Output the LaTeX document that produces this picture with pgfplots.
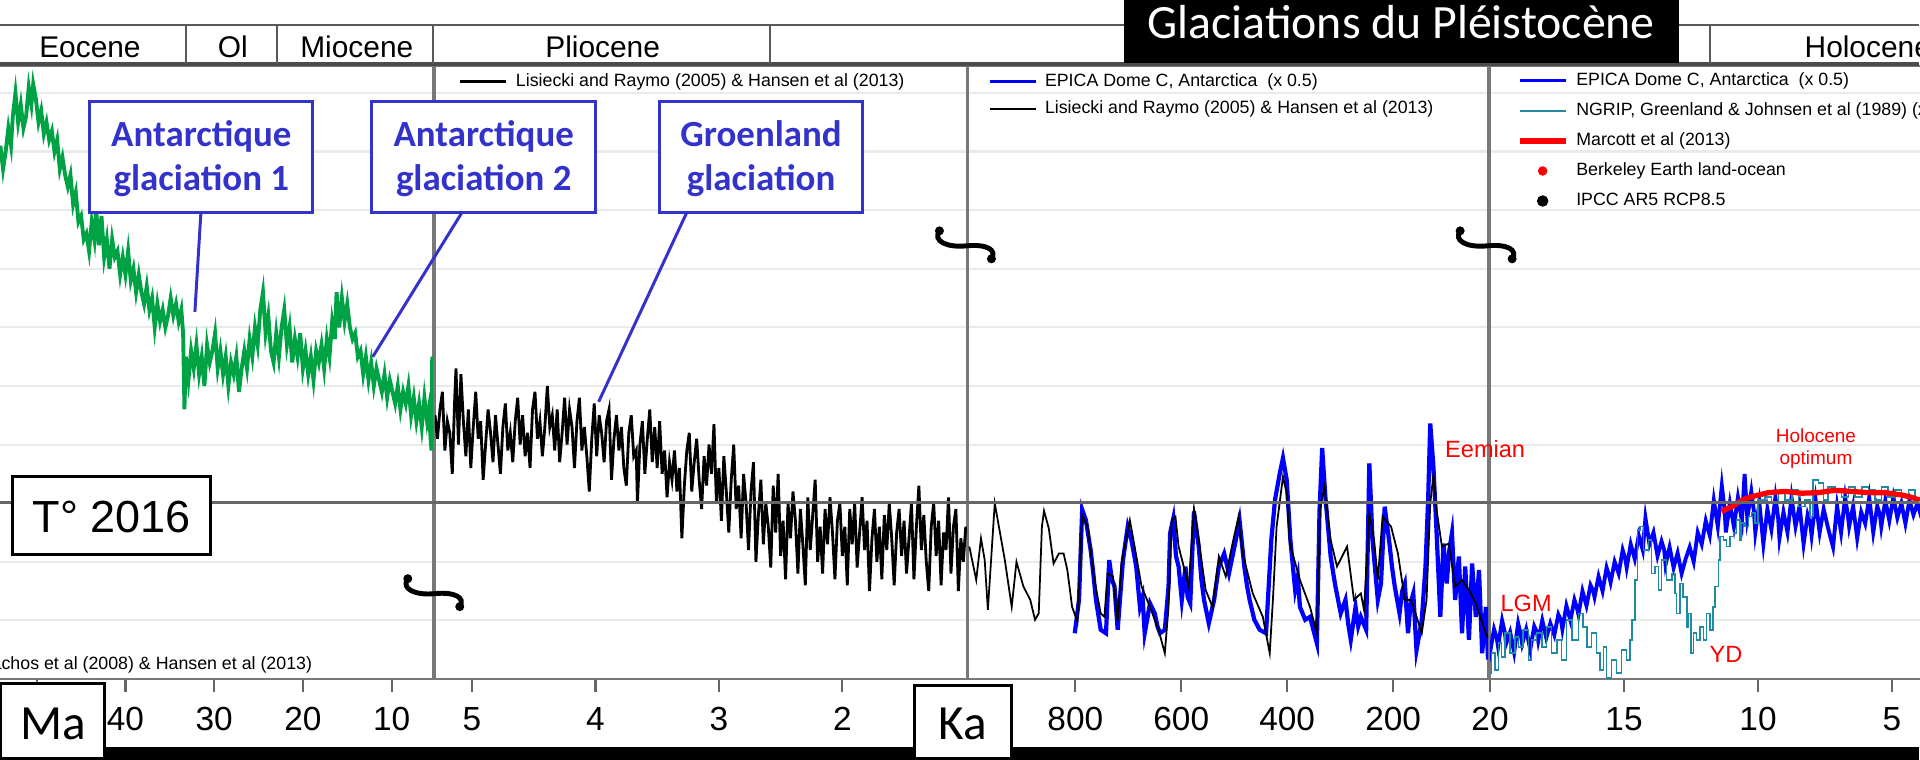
\documentclass[border=0pt]{standalone}
\usepackage{pgfplots}
\pgfplotsset{compat=1.18}
\usepackage{fontspec}
\setmainfont{Liberation Sans}
\newfontfamily\calibri{Carlito}
\definecolor{zgreen}{RGB}{0,163,68}
\definecolor{epica}{RGB}{0,0,255}
\definecolor{ngrip}{RGB}{32,138,160}
\definecolor{lblue}{RGB}{51,51,204}
\definecolor{gridc}{RGB}{234,234,234}
\definecolor{axc}{RGB}{120,120,120}
\pgfplotsset{
 panel/.style={
  scale only axis, height=6.13cm, ymin=0, ymax=10.46, x dir=reverse,
  anchor=south west,
  ytick={1,...,10}, yticklabels={}, ymajorgrids,
  major grid style={draw=gridc, line width=0.6pt},
  y tick style={draw=none},
  xtick pos=lower, tick align=outside, major tick length=0.13cm,
  x tick style={draw=black!60, line width=0.6pt},
  axis line style={draw=axc, line width=0.55pt},
  xticklabel style={font=\fontsize{9.5}{11}\selectfont, yshift=-0.03cm},
  /pgf/number format/assume math mode=true,
  legend image code/.code={\draw[##1] (0cm,0cm) -- (0.46cm,0cm);},
  legend cell align=left,
  legend style={draw=none, fill=none, inner sep=0pt, outer sep=0pt,
    font=\fontsize{5.06}{6}\selectfont, column sep=0.08cm, row sep=0.10cm,
    nodes={inner sep=0pt, text height=0.13cm, text depth=0.04cm}},
 }
}
\tikzset{brk/.pic={
  \draw[line width=1.4pt] (-27,-15) .. controls (-34,-5) and (-20,2) .. (0,0) .. controls (20,-2) and (31,4) .. (25,13);
  \fill (-27,-15) circle (4.5); \fill (25,13) circle (4.5);}}
\begin{document}
\begin{tikzpicture}
\useasboundingbox (0,0) rectangle (19.2,7.6);
\clip (0,0) rectangle (19.2,7.6);
% ---------------- panel 1 : Zachos
\begin{axis}[panel, at={(-0.076cm,0.81cm)}, width=4.406cm, xmin=5.33, xmax=55,
  xtick={10,20,30,40}, extra x ticks={50}, extra x tick labels={},
  legend style={at={(0.7254,0.009)}, anchor=south east}]
\addlegendimage{zgreen, line width=1.1pt}
\addlegendentry{Zachos et al (2008) \& Hansen et al (2013)}
\addplot[zgreen, line width=1.1pt, forget plot] table {
x y
54.1 9.1
53.8 8.7
53.5 9.0
53.2 9.4
52.9 9.1
52.7 9.6
52.4 10.0
52.1 9.5
51.8 9.8
51.5 9.4
51.2 9.6
50.9 10.1
50.6 9.8
50.4 10.15
50.1 9.9
49.8 9.5
49.5 9.7
49.2 9.3
48.9 9.5
48.6 9.2
48.3 9.35
48.0 9.0
47.7 9.2
47.4 8.7
47.1 8.9
46.8 8.6
46.5 8.4
46.2 8.6
45.9 8.1
45.6 8.3
45.3 7.8
45.0 7.9
44.7 7.5
44.4 7.6
44.1 7.3
43.8 7.8
43.5 7.5
43.3 8.0
43.0 7.4
42.7 7.9
42.4 7.2
42.1 7.5
41.8 7.0
41.5 7.5
41.2 7.2
40.9 7.3
40.6 6.9
40.3 7.2
40.0 6.9
39.7 7.3
39.4 6.8
39.1 7.0
38.8 6.6
38.5 6.9
38.2 6.6
37.9 6.4
37.6 6.7
37.3 6.3
37.0 6.5
36.7 6.0
36.4 6.4
36.1 6.1
35.8 6.3
35.5 6.0
35.2 6.2
34.9 6.5
34.6 6.2
34.3 6.4
34.0 6.1
33.7 6.3
33.5 5.9
33.35 4.6
33.2 5.5
32.9 5.1
32.6 5.6
32.3 5.3
32.0 5.7
31.7 5.2
31.4 5.5
31.1 5.0
30.8 5.7
30.5 5.4
30.2 5.6
29.9 5.9
29.6 5.3
29.3 5.6
29.0 5.2
28.7 5.5
28.4 5.0
28.1 5.4
27.8 5.2
27.5 5.5
27.2 4.9
26.9 5.3
26.6 5.6
26.3 5.3
26.0 5.8
25.7 5.5
25.4 6.0
25.1 5.7
24.8 6.3
24.5 6.6
24.2 5.9
23.9 6.2
23.6 5.6
23.3 5.4
23.0 5.9
22.7 5.5
22.4 6.0
22.1 6.3
21.8 5.7
21.5 6.0
21.2 5.4
20.9 5.8
20.6 5.5
20.3 5.9
20.0 5.3
19.7 5.6
19.4 5.2
19.1 5.5
18.8 5.1
18.5 5.6
18.2 5.4
17.9 5.7
17.6 5.3
17.3 5.8
17.0 5.5
16.7 6.1
16.4 5.8
16.2 6.6
15.9 6.0
15.6 6.5
15.3 6.1
15.0 6.4
14.7 6.0
14.4 5.8
14.1 5.9
13.8 5.5
13.5 5.6
13.2 5.2
12.9 5.5
12.6 5.1
12.3 5.4
12.0 5.0
11.7 5.3
11.4 5.1
11.1 4.9
10.8 5.2
10.5 4.8
10.2 5.1
9.9 4.9
9.6 4.7
9.3 5.0
9.0 4.6
8.7 4.9
8.4 4.7
8.1 5.0
7.8 4.5
7.5 4.8
7.2 4.4
6.9 4.7
6.6 4.3
6.3 4.8
6.0 4.4
5.8 4.6
5.6 4.1
5.5 3.9
5.42 5.5
5.33 4.3
};
\end{axis}
% ---------------- panel 2 : Pliocene
\begin{axis}[panel, at={(4.35cm,0.81cm)}, width=5.32cm, xmin=0.99, xmax=5.30,
  xtick={2,3,4,5},
  legend style={at={(0.0451,0.9878)}, anchor=north west}]
\addlegendimage{black, line width=0.85pt}
\addlegendentry{Lisiecki and Raymo (2005) \& Hansen et al (2013)}
\addplot[black, line width=0.8pt, forget plot] table {
x y
5.30 4.5
5.28 4.1
5.26 4.6
5.24 4.9
5.22 3.9
5.20 4.4
5.18 4.2
5.16 3.5
5.14 4.8
5.13 5.3
5.11 4.0
5.09 5.2
5.07 4.4
5.05 3.8
5.03 4.6
5.01 3.6
4.99 4.3
4.97 4.9
4.95 4.1
4.93 4.4
4.91 3.4
4.89 4.0
4.87 4.6
4.85 4.2
4.83 3.7
4.81 4.5
4.79 4.0
4.77 3.5
4.75 4.3
4.73 4.7
4.71 3.9
4.69 4.2
4.67 3.7
4.65 4.4
4.63 4.8
4.61 4.0
4.59 4.5
4.57 3.8
4.55 4.2
4.53 3.6
4.51 4.6
4.49 4.9
4.47 4.1
4.45 4.4
4.43 3.8
4.41 4.3
4.39 5.0
4.37 4.3
4.35 4.5
4.33 3.9
4.31 4.6
4.29 3.7
4.27 4.2
4.25 4.8
4.23 4.0
4.21 4.6
4.19 4.3
4.17 3.6
4.15 4.4
4.13 4.8
4.11 3.9
4.09 4.3
4.07 3.8
4.05 3.2
4.03 4.1
4.01 4.7
3.99 3.8
3.97 4.5
3.95 4.2
3.93 3.7
3.91 4.4
3.89 4.6
3.87 3.4
3.85 4.1
3.83 4.5
3.81 3.9
3.79 4.3
3.77 3.6
3.75 3.3
3.73 4.2
3.71 4.5
3.69 3.8
3.67 3.9
3.66 3.0
3.64 4.0
3.62 4.4
3.60 3.5
3.58 4.1
3.56 4.6
3.54 3.7
3.52 4.3
3.50 3.6
3.48 4.4
3.46 3.5
3.44 3.9
3.42 3.1
3.40 3.7
3.38 3.4
3.36 3.9
3.34 3.2
3.32 3.6
3.30 2.4
3.28 3.3
3.26 3.9
3.24 4.2
3.22 3.2
3.20 3.7
3.18 4.1
3.16 3.4
3.14 2.9
3.12 3.8
3.10 3.3
3.08 4.0
3.06 3.5
3.04 4.35
3.02 3.0
3.00 3.6
2.98 2.7
2.96 3.8
2.94 3.2
2.92 2.5
2.90 3.4
2.88 4.0
2.86 2.9
2.84 3.3
2.82 2.4
2.80 3.5
2.78 3.0
2.76 2.2
2.74 3.2
2.72 3.7
2.70 2.0
2.68 2.8
2.66 3.4
2.64 2.3
2.62 3.0
2.60 2.6
2.58 1.9
2.56 3.3
2.54 2.5
2.52 3.5
2.50 2.1
2.48 2.7
2.46 1.7
2.44 3.0
2.42 2.4
2.40 3.2
2.38 2.7
2.36 1.8
2.34 2.9
2.32 2.3
2.30 1.6
2.28 3.1
2.26 2.2
2.24 2.8
2.22 3.4
2.20 2.0
2.18 2.6
2.16 1.8
2.14 2.9
2.12 2.3
2.10 3.1
2.08 2.5
2.06 1.7
2.04 2.7
2.02 3.0
2.00 2.1
1.98 2.6
1.96 1.6
1.94 2.9
1.92 2.3
1.90 3.0
1.88 1.9
1.86 2.5
1.84 3.1
1.82 2.2
1.80 2.7
1.78 1.5
1.76 2.4
1.74 2.9
1.72 2.0
1.70 2.6
1.68 1.7
1.66 2.8
1.64 2.2
1.62 3.0
1.60 2.4
1.58 1.6
1.56 2.5
1.54 2.9
1.52 2.1
1.50 2.7
1.48 1.8
1.46 2.4
1.44 3.0
1.42 1.7
1.40 2.6
1.38 3.3
1.36 2.2
1.34 2.8
1.32 2.0
1.30 1.5
1.28 2.6
1.26 3.0
1.24 2.1
1.22 2.7
1.20 1.6
1.18 2.5
1.16 2.2
1.14 3.1
1.12 1.8
1.10 2.6
1.08 2.9
1.06 1.5
1.04 2.4
1.02 2.0
1.00 2.6
};
\end{axis}
% ---------------- panel 3 : 1000 - 20 ka
\begin{axis}[panel, at={(9.68cm,0.81cm)}, width=5.20cm, xmin=21, xmax=1002.5,
  xtick={200,400,600,800},
  legend style={at={(0.0385,0.9878)}, anchor=north west}]
\addlegendimage{epica, line width=0.85pt}
\addlegendentry{EPICA Dome C, Antarctica\ \ (x 0.5)}
\addlegendimage{black, line width=0.45pt}
\addlegendentry{Lisiecki and Raymo (2005) \& Hansen et al (2013)}
\addplot[epica, line width=1.2pt, forget plot] table {
x y
801 0.78
793 1.35
787 2.89
780 2.71
771 2.20
766 1.80
761 1.35
752 0.84
742 0.78
736 2.03
731 1.70
726 1.58
720 0.84
710 2.03
701 2.60
694 2.37
685 1.92
678 1.23
673 1.40
669 0.78
659 1.29
650 1.12
645 0.90
640 0.78
631 0.84
624 1.58
621 2.49
615 2.74
610 2.10
605 1.92
599 1.35
592 1.92
588 1.40
583 1.29
576 2.86
567 2.26
562 1.70
557 1.35
548 0.95
538 1.35
529 1.92
519 2.14
510 1.80
497 2.37
490 2.71
481 1.92
476 1.60
471 1.35
462 1.01
452 0.84
440 0.78
430 2.37
423 3.06
414 3.51
408 3.77
401 3.40
394 2.37
385 1.52
380 1.75
376 1.23
366 1.01
357 1.06
344 0.61
339 2.88
334 3.94
328 3.11
318 2.09
313 1.80
309 1.58
299 1.12
290 1.35
285 0.95
280 0.67
271 1.23
266 0.90
261 1.06
251 0.84
245 3.68
239 2.37
229 1.35
223 1.63
216 2.94
207 2.31
202 1.90
197 1.58
188 1.12
183 1.50
178 1.63
172 0.78
167 1.30
162 1.46
156 0.49
146 1.01
139 1.92
134 3.06
130 4.36
124 3.62
118 2.49
111 1.06
105 2.31
99 1.63
94 2.20
89 2.49
83 1.35
76 2.09
70 0.78
64 1.92
57 0.67
51 1.97
44 1.06
38 1.86
32 0.44
25 1.23
21 0.33
};
\addplot[black, line width=0.5pt, forget plot] table {
x y
1000 2.26
987 1.69
978 2.40
971 2.03
965 1.18
952 3.00
943 2.54
933 2.03
920 1.23
911 2.00
898 1.58
885 1.35
876 1.01
869 1.12
863 2.60
859 2.87
850 2.57
841 1.97
831 2.14
822 2.14
815 1.86
806 1.23
796 0.98
787 2.80
777 2.60
764 1.69
752 1.12
745 1.06
739 1.80
729 1.75
720 0.98
713 1.97
697 2.71
688 2.26
675 1.58
659 1.23
643 0.84
631 0.44
624 1.23
618 2.71
611 2.77
605 2.26
592 1.80
586 1.58
576 2.91
567 2.37
554 1.52
541 1.23
529 2.09
516 1.75
503 2.32
492 2.77
484 2.14
465 1.46
446 1.06
433 0.44
427 1.35
420 2.60
408 3.45
401 3.17
395 2.31
376 1.69
357 1.23
344 0.78
338 2.88
330 3.28
318 2.37
306 1.92
287 2.26
274 1.35
261 1.46
255 1.18
245 2.83
236 2.37
229 1.69
220 2.77
204 2.60
191 2.14
178 1.35
166 1.35
146 0.78
137 1.35
130 3.00
124 3.48
118 2.88
108 2.26
95 2.31
83 1.58
70 1.69
57 1.52
44 1.29
25 0.78
21 0.70
};
\end{axis}
% ---------------- panel 4 : 20 - 0 ka
\begin{axis}[panel, at={(14.90cm,0.81cm)}, width=5.36cm, xmin=0, xmax=20,
  xtick={5,10,15,20},
  legend style={at={(0.0504,0.9894)}, anchor=north west, row sep=0.13cm}]
\addlegendimage{epica, line width=0.85pt}
\addlegendentry{EPICA Dome C, Antarctica\ \ (x 0.5)}
\addlegendimage{ngrip, line width=0.45pt}
\addlegendentry{NGRIP, Greenland \& Johnsen et al (1989) (x 0.5)}
\addlegendimage{red, line width=1.5pt}
\addlegendentry{Marcott et al (2013)}
\addlegendimage{legend image code/.code={\fill[red] (0.23cm,0cm) circle (0.04cm);}}
\addlegendentry{Berkeley Earth land-ocean}
\addlegendimage{legend image code/.code={\fill[black] (0.23cm,0cm) circle (0.05cm);}}
\addlegendentry{IPCC AR5 RCP8.5}
\addplot[epica, line width=1.1pt, forget plot] table {
x y
20.15 0.9
20.05 0.55
20.0 0.45
19.85 0.85
19.75 0.7
19.7 0.55
19.55 1.0
19.45 0.8
19.4 0.6
19.25 0.8
19.1 0.45
18.95 0.95
18.85 0.75
18.8 0.6
18.65 0.85
18.5 0.5
18.35 0.9
18.25 0.8
18.2 0.65
18.05 1.0
17.9 0.7
17.75 0.95
17.6 0.75
17.45 1.1
17.35 1.0
17.3 0.85
17.15 1.25
17.0 1.0
16.85 1.35
16.75 1.2
16.7 1.1
16.55 1.5
16.4 1.25
16.25 1.6
16.15 1.5
16.1 1.4
15.95 1.75
15.8 1.5
15.65 1.9
15.55 1.75
15.5 1.65
15.35 2.0
15.2 1.8
15.05 2.2
14.95 2.05
14.9 1.9
14.75 2.3
14.6 2.05
14.45 2.45
14.3 2.2
14.2 2.75
14.05 2.3
13.9 2.5
13.75 2.1
13.6 2.35
13.5 2.2
13.45 1.95
13.3 2.25
13.15 1.9
13.0 2.15
12.85 1.8
12.7 2.05
12.55 2.25
12.4 2.0
12.25 2.5
12.1 2.3
11.95 2.7
11.8 2.45
11.65 3.05
11.5 2.6
11.35 3.3
11.25 2.9
11.2 2.5
11.05 3.0
10.9 2.6
10.75 3.1
10.6 2.7
10.5 3.5
10.4 2.75
10.25 3.2
10.15 2.85
10.1 2.5
9.95 3.0
9.8 2.3
9.65 2.9
9.5 2.55
9.35 3.1
9.25 2.75
9.2 2.4
9.05 2.85
8.9 2.5
8.75 3.1
8.6 2.6
8.45 2.95
8.3 2.3
8.15 2.8
8.05 2.65
8.0 2.45
7.85 3.05
7.7 2.5
7.55 2.9
7.4 2.6
7.2 2.25
7.05 2.95
6.9 2.5
6.75 3.1
6.65 2.8
6.6 2.6
6.45 2.95
6.3 2.4
6.15 2.85
6.0 2.65
5.85 3.1
5.7 2.5
5.55 2.95
5.45 2.8
5.4 2.6
5.25 3.05
5.1 2.7
4.95 3.1
4.8 2.75
4.65 3.0
4.5 2.65
4.35 3.05
4.2 2.8
4.05 3.0
3.9 2.75
};
\addplot[ngrip, line width=0.45pt, const plot, forget plot] table {
x y
20.06 0.10
19.94 0.44
19.81 0.15
19.69 0.61
19.57 0.38
19.44 0.78
19.25 0.44
19.07 0.72
18.94 0.55
18.76 0.84
18.57 0.32
18.45 0.67
18.26 0.78
18.07 0.55
17.89 0.89
17.70 0.44
17.51 0.67
17.33 0.32
17.14 1.01
16.95 0.67
16.70 1.12
16.52 0.89
16.39 0.55
16.21 0.78
16.02 0.44
15.90 0.15
15.77 0.55
15.65 0.02
15.46 0.32
15.28 0.10
15.09 0.49
14.90 0.32
14.78 0.67
14.71 1.01
14.59 1.69
14.49 2.54
14.40 2.60
14.28 2.20
14.09 2.37
13.97 1.80
13.84 1.92
13.72 1.52
13.60 2.03
13.41 1.69
13.22 1.80
13.10 1.46
13.04 1.12
12.91 1.63
12.79 1.40
12.66 0.89
12.60 1.12
12.50 0.44
12.41 0.78
12.29 0.67
12.16 0.89
12.04 0.67
11.92 1.12
11.79 0.84
11.67 1.23
11.61 1.58
11.48 2.03
11.42 2.43
11.29 2.37
11.17 2.26
11.04 2.43
10.92 2.49
10.80 2.71
10.67 2.37
10.61 2.66
10.49 2.60
10.36 2.77
10.24 2.83
10.11 2.66
9.99 3.05
9.74 3.11
9.49 3.00
9.24 3.17
8.99 3.05
8.74 3.22
8.49 2.94
8.25 3.05
8.06 2.77
7.94 3.40
7.75 3.34
7.56 3.05
7.38 3.28
7.13 3.22
6.88 3.11
6.63 3.28
6.38 3.11
6.13 3.28
5.88 3.22
5.63 3.05
5.39 3.28
5.14 3.11
4.89 3.22
4.64 3.11
4.39 3.22
4.14 3.05
3.96 3.11
};
\addplot[red, line width=1.5pt, forget plot] table {
x y
11.36 2.86
10.98 2.94
10.61 3.05
10.24 3.11
9.61 3.18
8.99 3.20
8.37 3.17
7.75 3.18
7.13 3.22
6.51 3.20
5.88 3.18
5.26 3.18
4.64 3.14
4.27 3.10
3.96 3.05
};
\end{axis}
% ---------------- overlay in pixel coordinates (y downward)
\begin{scope}[shift={(0cm,7.6cm)}, x=0.01cm, y=-0.01cm]
 \draw[black!60, line width=0.8pt] (0,503.2) -- (1920,503.2);
 \draw[black!65, line width=0.6pt] (0,25) -- (1920,25);
 \draw[black!70, line width=0.9pt] (0,64) -- (1920,64);
 \foreach \x in {186,277,433,770,1711} \draw[black!65, line width=0.6pt] (\x,25) -- (\x,64);
 \begin{scope}[every node/.style={anchor=base, font=\fontsize{8.5}{10}\selectfont, inner sep=0pt}]
  \node at (90,58) {Eocene};
  \node at (233,58) {Ol};
  \node at (357,58) {Miocene};
  \node at (603,58) {Pliocene};
  \node[anchor=base west] at (1805,58) {Holocene};
 \end{scope}
 \fill[black] (1125,-2) rectangle (1680,63);
 \node[anchor=base, white, inner sep=0pt, font=\calibri\fontsize{13.6}{16}\selectfont] at (1402,39) {Glaciations du Pléistocène};
 \draw[lblue, line width=0.85pt] (201,213) -- (195,312);
 \draw[lblue, line width=0.85pt] (462,213) -- (373,357);
 \draw[lblue, line width=0.85pt] (687,213) -- (599,402);
 \draw[lblue, line width=0.85pt, fill=white] (90,102) rectangle (313,213);
 \draw[lblue, line width=0.85pt, fill=white] (372,102) rectangle (596,213);
 \draw[lblue, line width=0.85pt, fill=white] (660,102) rectangle (863,213);
 \begin{scope}[every node/.style={anchor=base, lblue, inner sep=0pt, font=\calibri\bfseries\fontsize{10.5}{12}\selectfont}]
  \node at (201.5,147) {Antarctique};
  \node at (201.5,191) {glaciation 1};
  \node at (484,147) {Antarctique};
  \node at (484,191) {glaciation 2};
  \node at (761.5,147) {Groenland};
  \node at (761.5,191) {glaciation};
 \end{scope}
 \begin{scope}[every node/.style={anchor=base, red, inner sep=0pt, font=\fontsize{6.7}{8}\selectfont}]
  \node at (1486,458) {Eemian};
  \node at (1527,612) {LGM};
  \node at (1727,663) {YD};
 \end{scope}
 \begin{scope}[every node/.style={anchor=base, red, inner sep=0pt, font=\fontsize{5.4}{6.5}\selectfont}]
  \node at (1817,443) {Holocene};
  \node at (1817,465) {optimum};
 \end{scope}
 \draw[black, line width=0.85pt, fill=white] (13,477) rectangle (211,555);
 \node[anchor=base, inner sep=0pt, font=\fontsize{12.8}{15}\selectfont] at (112,533) {T° 2016};
 \fill[black] (105,747) rectangle (1920,762);
 \draw[black, line width=0.85pt, fill=white] (1,684) rectangle (105,759);
 \node[anchor=base, inner sep=0pt, font=\calibri\fontsize{14}{16}\selectfont] at (53,740) {Ma};
 \draw[black, line width=0.85pt, fill=white] (915,686) rectangle (1012,759);
 \node[anchor=base, inner sep=0pt, font=\calibri\fontsize{14}{16}\selectfont] at (963,740) {Ka};
 \pic at (435,594) {brk};
 \pic at (967,246) {brk};
 \pic at (1488,246) {brk};
\end{scope}
\end{tikzpicture}
\end{document}
